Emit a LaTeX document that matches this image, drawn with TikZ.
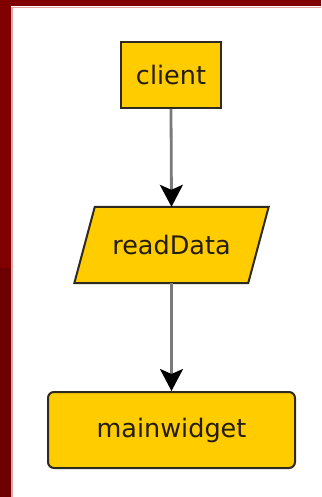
\documentclass[tikz,border=0pt]{standalone}
\usepackage{fontspec}
\setmainfont{DejaVu Sans}
\usetikzlibrary{arrows.meta,calc,backgrounds}
\definecolor{frameRed}{HTML}{800000}
\definecolor{frameDark}{HTML}{6C0000}
\definecolor{framePink}{HTML}{E3A3A3}
\definecolor{boxGold}{HTML}{FFCC00}
\definecolor{boxEdge}{HTML}{2E2A20}
\definecolor{linkGray}{HTML}{7A7A7A}
\definecolor{labelInk}{HTML}{241C0C}

\begin{document}
\begin{tikzpicture}[x=1pt,y=-1pt,
  box/.style={fill=boxGold, draw=boxEdge, line width=2pt,
    font=\fontsize{25.5}{30}\selectfont, text=labelInk, inner sep=0pt},
  iobox/.style={font=\fontsize{25.5}{30}\selectfont, text=labelInk,
    inner sep=0pt, minimum width=194pt, minimum height=76pt},
  link/.style={draw=linkGray, line width=2.8pt,
    -{Stealth[length=22pt,width=23pt,inset=5pt,color=black]}}]

% page size
\useasboundingbox (0,0) rectangle (321,497);

% nodes
\node[box, minimum width=100pt, minimum height=66pt] (client) at (171,75) {client};
\node[iobox] (readData) at (171.5,245) {readData};
\node[box, rounded corners=6pt, minimum width=247pt, minimum height=76pt]
  (mainwidget) at (171.5,430) {mainwidget};

\begin{scope}[on background layer]
  % page with its dark red frame
  \fill[white] (0,0) rectangle (321,497);
  \fill[frameRed] (0,0) rectangle (321,6.5);
  \fill[frameRed] (0,0) rectangle (11,268);
  \fill[frameDark] (0,268) rectangle (11,497);
  \draw[framePink, line width=1.5pt] (11.8,7.3) -- (11.8,497);
  \draw[framePink, line width=1.2pt] (11.8,7.3) -- (321,7.3);
  % parallelogram behind the readData label
  \filldraw[fill=boxGold, draw=boxEdge, line width=2pt, line join=miter]
    ($(readData.north west)+(20.5,0)$) -- (readData.north east)
    -- ($(readData.south east)+(-20.5,0)$) -- (readData.south west) -- cycle;
\end{scope}

% connectors
\draw[link] (client.south) -- (readData.north);
\draw[link] (readData.south) -- (mainwidget.north);
\end{tikzpicture}
\end{document}
